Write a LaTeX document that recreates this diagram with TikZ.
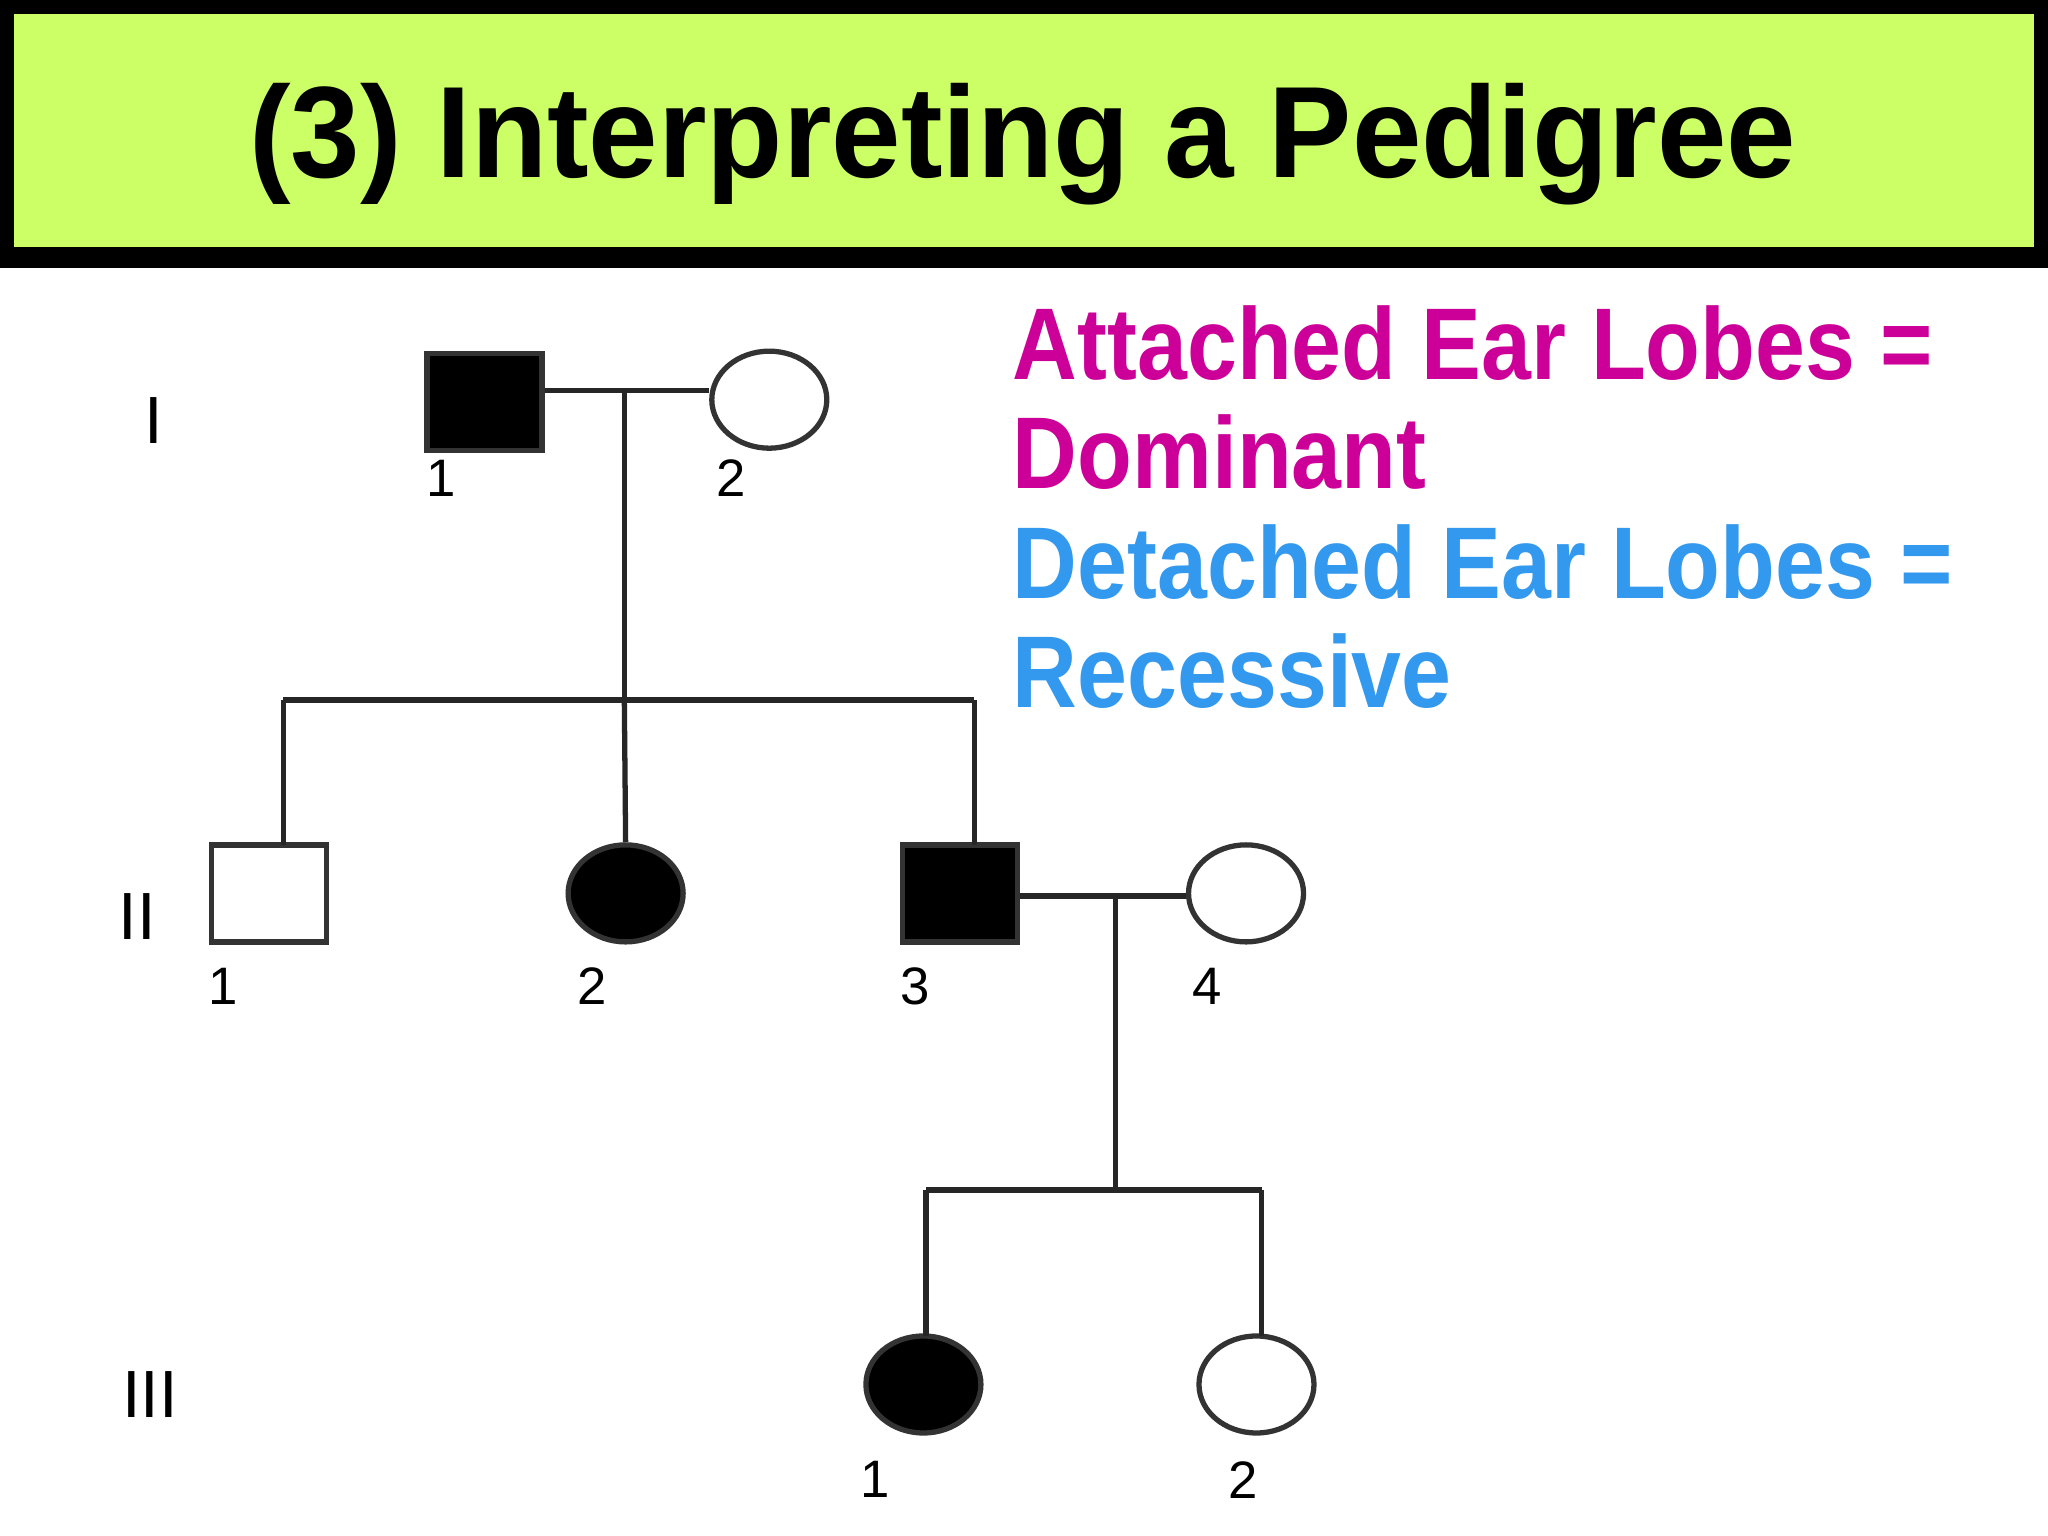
\documentclass[tikz,border=0pt]{standalone}
\usepackage{fontspec}
\setmainfont{Liberation Sans}
\usetikzlibrary{positioning,shapes.geometric}
\definecolor{lime}{HTML}{CCFF66}
\definecolor{dom}{HTML}{CC0099}
\definecolor{rec}{HTML}{3399EE}
\tikzset{
  male/.style={draw=black!80,line width=1.5pt,minimum width=1.15cm,minimum height=0.97cm,inner sep=0pt},
  female/.style={draw=black!80,line width=1.5pt,ellipse,minimum width=1.15cm,minimum height=0.97cm,inner sep=0pt},
  num/.style={font=\fontsize{15}{15}\selectfont},
  gen/.style={font=\fontsize{19}{19}\selectfont},
  line/.style={line width=1.5pt,black!85},
  key/.style={anchor=west,font=\bfseries\fontsize{29}{29}\selectfont,inner sep=0pt}
}
\newcommand{\keytext}[1]{\scalebox{0.88}[1]{#1}}
\begin{document}
\begin{tikzpicture}[x=0.013061cm,y=-0.013061cm]
\useasboundingbox (0,0) rectangle (1568,1176);
\fill[white] (0,0) rectangle (1568,1176);
\draw[fill=lime,line width=6pt] (3,3) rectangle (1565,197);
\node (title) at (783,110) {\bfseries\fontsize{37}{37}\selectfont\scalebox{0.96}[1]{(3) Interpreting a Pedigree}};
% generation labels
\node[gen] (g1) at (118,322) {I};
\node[gen] (g2) at (105,702) {II};
\node[gen] (g3) at (115,1068) {III};
% generation I
\node[male,fill=black] (a1) at (371,308) {};
\node[female] (a2) at (589,306) {};
\node[num] at (338,366) {1};
\node[num] at (560,366) {2};
% generation II
\node[male] (b1) at (206,684) {};
\node[female,fill=black] (b2) at (479,684) {};
\node[male,fill=black] (b3) at (735,684) {};
\node[female] (b4) at (954,684) {};
\node[num] at (171,755) {1};
\node[num] at (453,755) {2};
\node[num] at (701,755) {3};
\node[num] at (924,755) {4};
% generation III
\node[female,fill=black] (c1) at (707,1060) {};
\node[female] (c2) at (962,1060) {};
\node[num] at (670,1133) {1};
\node[num] at (952,1133) {2};
% lines
\coordinate (m1) at (478,299);
\coordinate (s1) at (478,536);
\coordinate (m2) at (854,686);
\coordinate (s2) at (854,911);
\draw[line] (a1.east |- m1) -- (a2.west |- m1);
\draw[line] (m1) -- (s1);
\draw[line] (217,536) -- (746,536);
\draw[line] (217,536) -- (217,647);
\draw[line] (s1) -- (b2.north);
\draw[line] (746,536) -- (746,647);
\draw[line] (b3.east |- m2) -- (b4.west |- m2);
\draw[line] (m2) -- (s2);
\draw[line] (709,911) -- (966,911);
\draw[line] (709,911) -- (709,1023);
\draw[line] (966,911) -- (966,1023);
% key
\node[key,dom] (k1) at (775,263) {\keytext{Attached Ear Lobes =}};
\node[key,dom] (k2) at (775,346) {\keytext{Dominant}};
\node[key,rec] (k3) at (775,430) {\keytext{Detached Ear Lobes =}};
\node[key,rec] (k4) at (775,514) {\keytext{Recessive}};
\end{tikzpicture}
\end{document}
